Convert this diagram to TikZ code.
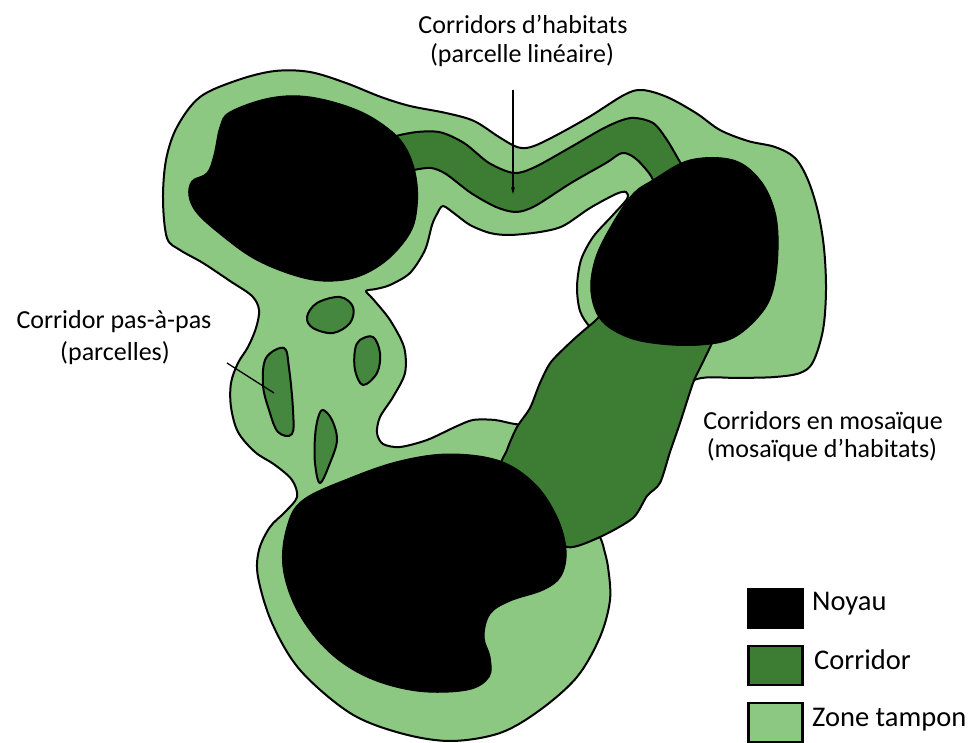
\documentclass[tikz,border=0pt]{standalone}
\usepackage{fontspec}
\setmainfont{Carlito}
\usetikzlibrary{arrows.meta}
\definecolor{lightg}{HTML}{8CC882}
\definecolor{darkg}{HTML}{3D7D33}
\definecolor{stoneg}{HTML}{468740}
\tikzset{
  buffer/.style={fill=lightg, draw=black, line width=2pt, line join=round},
  corr/.style={fill=darkg, draw=black, line width=2pt, line join=round},
  stone/.style={fill=stoneg, draw=black, line width=2pt},
  core/.style={fill=black, draw=black, line width=1pt},
  lbl/.style={font=\fontsize{26}{30}\selectfont, inner sep=0pt, anchor=base},
  leg/.style={font=\fontsize{28.5}{32}\selectfont, inner sep=0pt, anchor=base west},
  legbox/.style={draw=black, line width=2.5pt, minimum width=54pt, minimum height=39pt, inner sep=0pt},
  leader/.style={line width=1.3pt, draw=black}
}
\begin{document}
\begin{tikzpicture}[x=1pt, y=-1pt]
\useasboundingbox (0,0) rectangle (978,743);
\fill[white] (0,0) rectangle (978,743);

% buffer zone (outer boundary + interior hole)
\filldraw[buffer, even odd rule]
  plot[smooth cycle, tension=0.55] coordinates {
    (167,238) (163,200) (166,160) (177,127) (200,97) (238,80) (275,71) (310,72)
    (346,83) (381,97) (410,106) (446,113) (474,121) (499,137) (517,147) (531,147)
    (553,137) (589,117) (624,95) (642,90) (667,97) (696,113) (720,130) (748,141)
    (775,147) (795,158) (808,180) (818,212) (824,248) (826,290) (823,330) (813,362)
    (800,373) (775,377) (740,378) (697,379)
    (670,400) (650,450) (625,505) (600,528)
    (603,545) (608,567) (610,600) (600,637) (577,677) (540,710) (500,733) (450,741)
    (400,733) (350,713) (300,670) (272,623) (258,577) (259,550) (270,527) (285,512)
    (297,497) (292,480) (275,465) (255,452) (238,432) (231,407) (231,383) (238,363)
    (248,347) (256,328) (259,310) (252,296) (230,281) (203,263) (180,250)}
  plot[smooth cycle, tension=0.5] coordinates {
    (443,206) (455,214) (470,225) (490,233) (510,235) (540,232) (563,226) (590,208)
    (616,194) (626,192) (627,199) (612,216) (593,237) (581,260) (577,287) (580,311)
    (590,327)
    (605,338) (570,375) (550,408) (533,424)
    (515,424) (495,420) (473,420) (455,427) (427,440) (400,447) (383,444) (377,433)
    (380,417) (393,397) (405,373) (404,347) (390,320) (373,299) (366,291) (376,289)
    (390,285) (410,273) (425,250) (432,225) (437,214)};

% linear corridor
\filldraw[corr] plot[smooth cycle, tension=0.5] coordinates {
  (388,142) (410,133) (439,132) (464,143) (489,163) (514,173) (535,167) (571,147)
  (606,127) (631,118) (653,123) (667,140) (680,162) (690,178)
  (665,196) (649,173) (635,158) (622,153) (606,163) (571,183) (535,206) (516,212)
  (496,207) (471,193) (446,174) (431,168) (414,170) (402,174)};

% mosaic corridor
\filldraw[corr] plot[smooth cycle, tension=0.45] coordinates {
  (608,312) (650,322) (720,322) (712,343) (700,368) (693,383) (680,423) (670,452)
  (660,483) (647,496) (633,518) (600,537) (567,547) (545,520) (502,472) (507,450)
  (517,427) (530,408) (540,383) (551,362) (573,340) (594,322)};

% stepping stones
\filldraw[stone] plot[smooth cycle, tension=0.6] coordinates {
  (307,317) (317,303) (340,297) (353,307) (350,323) (333,333) (313,328)};
\filldraw[stone] plot[smooth cycle, tension=0.6] coordinates {
  (360,340) (373,337) (380,353) (377,373) (363,385) (355,370) (355,350)};
\filldraw[stone] plot[smooth cycle, tension=0.6] coordinates {
  (266,358) (284,348) (289,368) (293,410) (292,434) (278,432) (269,410) (263,385)};
\filldraw[stone] plot[smooth cycle, tension=0.6] coordinates {
  (323,410) (332,420) (337,440) (330,463) (320,483) (315,463) (315,437) (318,418)};

% cores
\filldraw[core] plot[smooth cycle, tension=0.6] coordinates {
  (230,112) (270,98) (310,97) (357,110) (390,130) (407,150) (416,177) (417,207)
  (410,233) (387,260) (357,277) (323,281) (290,274) (253,258) (220,234) (197,213)
  (189,196) (192,181) (207,173) (214,155) (220,127)};
\filldraw[core] plot[smooth cycle, tension=0.6] coordinates {
  (653,180) (690,160) (733,160) (760,180) (775,212) (778,250) (773,290) (760,315)
  (733,338) (700,345) (660,344) (627,337) (601,320) (591,292) (595,260) (610,228)
  (632,195)};
\filldraw[core] plot[smooth cycle, tension=0.6] coordinates {
  (303,500) (350,478) (400,461) (450,454) (500,461) (535,484) (557,517) (566,550)
  (561,576) (543,590) (510,601) (490,614) (484,637) (490,657) (489,677) (467,690)
  (417,691) (367,677) (327,650) (297,610) (283,567) (287,527)};

% labels
\node[lbl] (hab1) at (523,34) {Corridors d’habitats};
\node[lbl] (hab2) at (522,63) {(parcelle linéaire)};
\node[lbl] (pas1) at (114,329) {Corridor pas-à-pas};
\node[lbl] (pas2) at (115,361) {(parcelles)};
\node[lbl] (mos1) at (823,429) {Corridors en mosaïque};
\node[lbl] (mos2) at (822,457) {(mosaïque d’habitats)};

% leaders
\coordinate (habS) at (513,90);
\coordinate (habE) at (513,194);
\draw[leader, -{Stealth[length=7pt, width=4pt]}] (habS) -- (habE);
\coordinate (pasS) at (227,363);
\coordinate (pasE) at (274,393);
\draw[leader] (pasS) -- (pasE);

% legend
\node[legbox, fill=black] (lgcore) at (775.5,608.5) {};
\node[legbox, fill=darkg] (lgcorr) at (775.5,665.5) {};
\node[legbox, fill=lightg] (lgbuf) at (775.5,722.5) {};
\node[leg] (tcore) at (812,610) {Noyau};
\node[leg] (tcorr) at (814,669) {Corridor};
\node[leg] (tbuf) at (812,726) {Zone tampon};
\end{tikzpicture}
\end{document}
